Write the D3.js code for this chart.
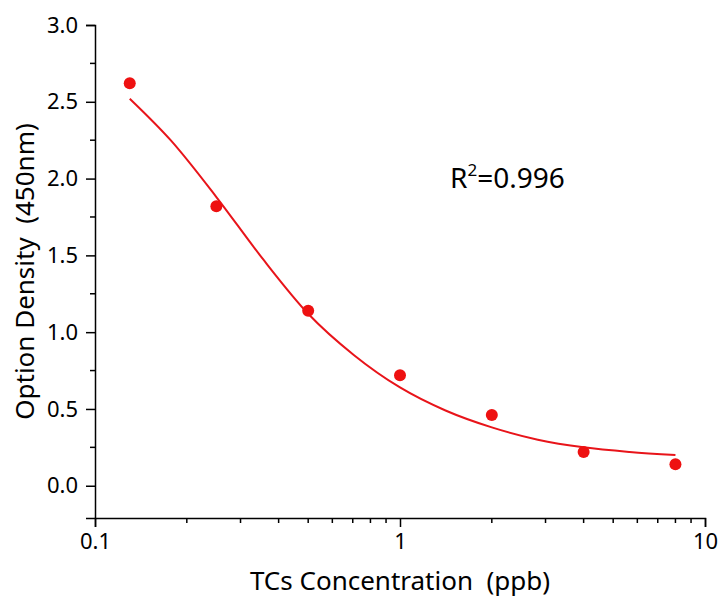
<!DOCTYPE html>
<html><head><meta charset="utf-8">
<script src="https://cdn.jsdelivr.net/npm/d3@7"></script>
<style>body{margin:0;background:#fff}text{font-family:"Noto Sans","Open Sans",sans-serif;white-space:pre}</style>
</head><body><div class="chart"></div>
<script>
// measured points
var conc = [0.13, 0.25, 0.5, 1, 2, 4, 8];
var od = [2.62, 1.82, 1.14, 0.72, 0.46, 0.22, 0.14];
// fitted curve
var fitX = [0.13, 0.177, 0.25, 0.354, 0.5, 0.707, 1, 1.41, 2, 2.83, 4, 5.66, 8];
var fitY = [2.52, 2.25, 1.88, 1.48, 1.12, 0.85, 0.64, 0.49, 0.38, 0.30, 0.25, 0.22, 0.20];
var yTicks = [0, 0.5, 1.0, 1.5, 2.0, 2.5, 3.0];

const W = 723, H = 601;
const margin = ({ top: 25, right: 18, bottom: 83, left: 95 });

var svg = d3.select(".chart").append("svg").attr("width", W).attr("height", H);

var x = d3.scaleLog().domain([0.1, 10]).range([margin.left, W - margin.right]);
var y = d3.scaleLinear().domain([-0.21, 3.0]).range([H - margin.bottom, margin.top]);

// x axis
var xMinor = [];
[0.1, 1].forEach(d => { for (var k = 2; k <= 9; k++) xMinor.push(d * k); });
var gx = svg.append("g").attr("transform", `translate(0,${H - margin.bottom})`);
gx.call(d3.axisBottom(x).tickValues([0.1, 1, 10]).tickFormat(d3.format("~g")).tickSize(9).tickPadding(6));
gx.selectAll(".minor").data(xMinor).join("line").attr("class", "minor")
    .attr("x1", d => x(d)).attr("x2", d => x(d)).attr("y1", 0).attr("y2", 5).attr("stroke", "black").attr("stroke-width", 1.5);

// y axis
var yMinor = d3.range(0.25, 3.0, 0.5);
var gy = svg.append("g").attr("transform", `translate(${margin.left},0)`);
gy.call(d3.axisLeft(y).tickValues(yTicks).tickFormat(d3.format(".1f")).tickSize(9).tickPadding(8));
gy.selectAll(".minor").data(yMinor).join("line").attr("class", "minor")
    .attr("y1", d => y(d)).attr("y2", d => y(d)).attr("x1", 0).attr("x2", -5).attr("stroke", "black").attr("stroke-width", 1.5);

svg.selectAll(".domain, .tick line").attr("stroke-width", 1.5);
svg.selectAll(".tick text").attr("font-size", 22).attr("fill", "black");

// curve
var line = d3.line().x(d => x(d[0])).y(d => y(d[1])).curve(d3.curveMonotoneX);
svg.append("path").datum(d3.zip(fitX, fitY)).attr("d", line)
    .attr("fill", "none").attr("stroke", "#e8141a").attr("stroke-width", 2);

// points
svg.selectAll(".pt").data(d3.zip(conc, od)).join("circle").attr("class", "pt")
    .attr("cx", d => x(d[0])).attr("cy", d => y(d[1])).attr("r", 6).attr("fill", "#ee1111");

// labels
svg.append("text").attr("x", (margin.left + W - margin.right) / 2).attr("y", 590)
    .attr("text-anchor", "middle").attr("font-size", 26).text("TCs Concentration  (ppb)");
svg.append("text").attr("transform", `translate(34,${(margin.top + H - margin.bottom) / 2}) rotate(-90)`)
    .attr("text-anchor", "middle").attr("font-size", 26).text("Option Density  (450nm)");

var r2 = svg.append("text").attr("x", 450).attr("y", 188).attr("font-size", 28);
r2.append("tspan").text("R");
r2.append("tspan").attr("dy", -12).attr("font-size", 17).text("2");
r2.append("tspan").attr("dy", 12).text("=0.996");
</script></body></html>
